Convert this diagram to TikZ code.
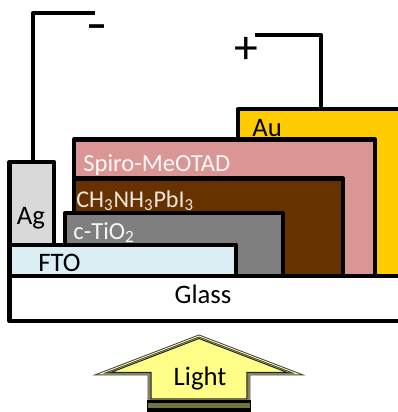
\documentclass[tikz,border=0pt]{standalone}
\usepackage{fontspec}
\setmainfont{Carlito}
\usepackage{xcolor}
\usetikzlibrary{fit}
\definecolor{goldAu}{HTML}{FFCC00}
\definecolor{pinkSpiro}{HTML}{D99694}
\definecolor{brownPvk}{HTML}{663300}
\definecolor{greyTiO}{HTML}{7F7F7F}
\definecolor{blueFTO}{HTML}{DBEEF4}
\definecolor{greyAg}{HTML}{D9D9D9}
\definecolor{yellowLight}{HTML}{FFFF88}
\definecolor{textLight}{HTML}{F2E6DC}
\tikzset{
  layer/.style={draw=black, line width=2.7pt, line join=round, inner sep=0pt, outer sep=0pt},
  wire/.style={draw=black, line width=2.7pt, line join=round},
  lbl/.style={font=\fontsize{15.2}{17}\selectfont, inner sep=0pt},
  smalllbl/.style={font=\fontsize{14}{16}\selectfont, inner sep=0pt}
}
\begin{document}
\begin{tikzpicture}[x=0.02cm, y=-0.02cm]
    \useasboundingbox (0,0) rectangle (398,412);
    \clip (0,0) rectangle (398,412);

    % layers, back to front
    \node[layer, fill=goldAu, fit={(238,109) (420,276)}] (au) {};
    \node[layer, fill=pinkSpiro, fit={(74,139.5) (375,276)}] (spiro) {};
    \node[layer, fill=brownPvk, fit={(74,178.5) (343,276)}] (pvk) {};
    \node[layer, fill=greyTiO, fit={(65,213) (283,276)}] (tio) {};
    \node[layer, fill=greyAg, fit={(9.5,162) (54,245)}] (ag) {};
    \node[layer, fill=blueFTO, fit={(9.5,245) (236,276)}] (fto) {};
    \node[layer, fill=white, fit={(9.5,276) (420,321)}] (glass) {};

    % labels
    \node[lbl, anchor=base west, text=black] (aulbl) at (252,136) {Au};
    \node[smalllbl, anchor=base west, text=white!92!pinkSpiro] (spirolbl) at (83,171) {Spiro-MeOTAD};
    \node[smalllbl, anchor=base west, text=textLight, font=\fontsize{13.7}{16}\selectfont] (pvklbl) at (76,207) {CH\textsubscript{3}NH\textsubscript{3}PbI\textsubscript{3}};
    \node[smalllbl, anchor=base west, text=white!92!greyTiO] (tiolbl) at (73,239) {c-TiO\textsubscript{2}};
    \node[lbl, anchor=base, text=black] (aglbl) at (31,224) {Ag};
    \node[lbl, anchor=base west, text=black] (ftolbl) at (38,271) {FTO};
    \node[lbl, anchor=base, text=black] (glasslbl) at (203,303) {Glass};

    % wires
    \coordinate (agcontact) at (33,162);
    \coordinate (minusend) at (95,13);
    \coordinate (plusend) at (255,35);
    \coordinate (aucontact) at (321,109);
    \draw[wire] (agcontact) |- (minusend);
    \draw[wire] (aucontact) |- (plusend);
    \node[font=\fontsize{24}{24}\bfseries\selectfont, inner sep=0pt] (minus) at (97,32) {--};
    \node[font=\fontsize{27}{27}\selectfont, inner sep=0pt] (plus) at (246,50.5) {+};

    % light arrow
    \fill[yellowLight] (199,336) -- (298,374) -- (249,374) -- (249,412) -- (149,412) -- (149,374) -- (100,374) -- cycle;
    \draw[draw=black!75, line width=0.55pt, double=yellowLight!80!white, double distance=0.5pt, line join=miter]
        (199,336) -- (298,374) -- (249,374) -- (249,412) -- (149,412) -- (149,374) -- (100,374) -- cycle;
    \draw[draw=black!85, line width=0.6pt, line join=miter]
        (199,338.5) -- (287,372.3) -- (247,372.3) -- (247,399) -- (151,399) -- (151,372.3) -- (111,372.3) -- cycle;
    \fill[black] (147,399.5) rectangle (251,412);
    \fill[yellowLight!45!black] (148,403) rectangle (250,407.5);
    \node[lbl, anchor=base, text=black] (lightlbl) at (200,385) {Light};
\end{tikzpicture}
\end{document}
